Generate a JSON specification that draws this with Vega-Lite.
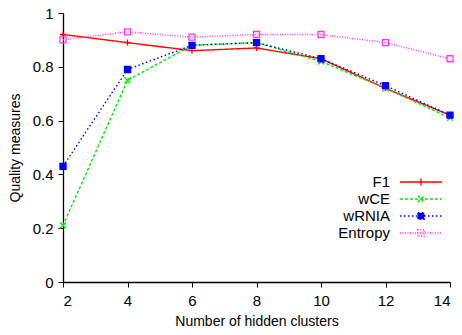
{
  "$schema": "https://vega.github.io/schema/vega-lite/v6.json",
  "width": 387,
  "height": 269,
  "autosize": {"type": "none"},
  "padding": {"left": 63, "top": 13, "right": 12, "bottom": 53},
  "background": "white",
  "config": {
    "view": {"stroke": null},
    "font": "Liberation Sans",
    "axis": {
      "labelFont": "Liberation Sans",
      "titleFont": "Liberation Sans",
      "labelFontSize": 15,
      "titleFontSize": 14,
      "titleFontWeight": "normal",
      "labelColor": "black",
      "titleColor": "black",
      "domainColor": "black",
      "tickColor": "black",
      "domainWidth": 1.3,
      "tickWidth": 1,
      "tickSize": 5,
      "grid": false
    },
    "legend": {
      "title": null,
      "orient": "none",
      "legendX": 279,
      "legendY": 160,
      "padding": 0,
      "symbolType": "M-2.625,0H2.625",
      "symbolSize": 256,
      "symbolStrokeWidth": 1.4,
      "symbolOffset": 70,
      "labelAlign": "right",
      "labelOffset": -40,
      "labelFontSize": 15,
      "labelFont": "Liberation Sans",
      "labelColor": "black",
      "rowPadding": 0
    }
  },
  "data": {
    "values": [
      {"k": 2, "series": "F1", "value": 0.92},
      {"k": 4, "series": "F1", "value": 0.89},
      {"k": 6, "series": "F1", "value": 0.86},
      {"k": 8, "series": "F1", "value": 0.87},
      {"k": 10, "series": "F1", "value": 0.83},
      {"k": 12, "series": "F1", "value": 0.72},
      {"k": 14, "series": "F1", "value": 0.62},
      {"k": 2, "series": "wCE", "value": 0.21},
      {"k": 4, "series": "wCE", "value": 0.75},
      {"k": 6, "series": "wCE", "value": 0.88},
      {"k": 8, "series": "wCE", "value": 0.89},
      {"k": 10, "series": "wCE", "value": 0.82},
      {"k": 12, "series": "wCE", "value": 0.72},
      {"k": 14, "series": "wCE", "value": 0.61},
      {"k": 2, "series": "wRNIA", "value": 0.43},
      {"k": 4, "series": "wRNIA", "value": 0.79},
      {"k": 6, "series": "wRNIA", "value": 0.88},
      {"k": 8, "series": "wRNIA", "value": 0.89},
      {"k": 10, "series": "wRNIA", "value": 0.83},
      {"k": 12, "series": "wRNIA", "value": 0.73},
      {"k": 14, "series": "wRNIA", "value": 0.62},
      {"k": 2, "series": "Entropy", "value": 0.90},
      {"k": 4, "series": "Entropy", "value": 0.93},
      {"k": 6, "series": "Entropy", "value": 0.91},
      {"k": 8, "series": "Entropy", "value": 0.92},
      {"k": 10, "series": "Entropy", "value": 0.92},
      {"k": 12, "series": "Entropy", "value": 0.89},
      {"k": 14, "series": "Entropy", "value": 0.83}
    ]
  },
  "encoding": {
    "x": {
      "field": "k",
      "type": "quantitative",
      "scale": {"domain": [2, 14], "nice": false, "zero": false},
      "axis": {
        "title": "Number of hidden clusters",
        "values": [2, 4, 6, 8, 10, 12, 14],
        "labelPadding": 6,
        "titlePadding": 6,
        "encode": {"ticks": {"update": {"y2": {"value": -5}}}}
      }
    },
    "y": {
      "field": "value",
      "type": "quantitative",
      "scale": {"domain": [0, 1], "nice": false},
      "axis": {
        "title": "Quality measures",
        "values": [0, 0.2, 0.4, 0.6, 0.8, 1],
        "format": "~g",
        "labelPadding": 5,
        "titlePadding": 10,
        "encode": {"ticks": {"update": {"x2": {"value": 5}}}}
      }
    }
  },
  "layer": [
    {
      "mark": {"type": "line", "strokeWidth": 1.4},
      "encoding": {
        "color": {
          "field": "series",
          "type": "nominal",
          "scale": {"domain": ["F1", "wCE", "wRNIA", "Entropy"], "range": ["#ff0000", "#00ee00", "#0000ff", "#ff33ff"]},
          "legend": {
            "symbolType": "M-2.625,0H2.625",
            "symbolSize": 256,
            "symbolOffset": 70,
            "labelOffset": -40,
            "labelAlign": "right",
            "encode": {
              "symbols": {
                "update": {
                  "shape": {"signal": "datum.value === 'F1' ? 'M-2.625,0H2.625M0,-0.45V0.45' : datum.value === 'wCE' ? 'M-2.625,0H2.625M-0.4,-0.4L0.4,0.4M-0.4,0.4L0.4,-0.4' : 'M-2.625,0H2.625M-0.4,-0.4H0.4V0.4H-0.4Z'"},
                  "fill": {"signal": "datum.value === 'wRNIA' ? '#0000ff' : 'transparent'"}
                }
              }
            }
          }
        },
        "strokeDash": {
          "field": "series",
          "type": "nominal",
          "scale": {"domain": ["F1", "wCE", "wRNIA", "Entropy"], "range": [[1, 0], [3, 2], [1.5, 2.5], [1, 1.5]]},
          "legend": {
            "symbolType": "M-2.625,0H2.625",
            "symbolSize": 256,
            "symbolOffset": 70,
            "labelOffset": -40,
            "labelAlign": "right"
          }
        }
      }
    },
    {
      "mark": {"type": "point", "filled": false, "size": 36, "strokeWidth": 1.3, "opacity": 1},
      "encoding": {
        "shape": {
          "condition": [
            {"test": "datum.series === 'F1'", "value": "M-1,0L1,0M0,-1L0,1"},
            {"test": "datum.series === 'wCE'", "value": "M-1,-1L1,1M-1,1L1,-1"}
          ],
          "value": "square"
        },
        "color": {"field": "series", "type": "nominal"},
        "fill": {
          "condition": {"test": "datum.series === 'wRNIA'", "value": "#0000ff"},
          "value": "transparent"
        }
      }
    }
  ]
}
